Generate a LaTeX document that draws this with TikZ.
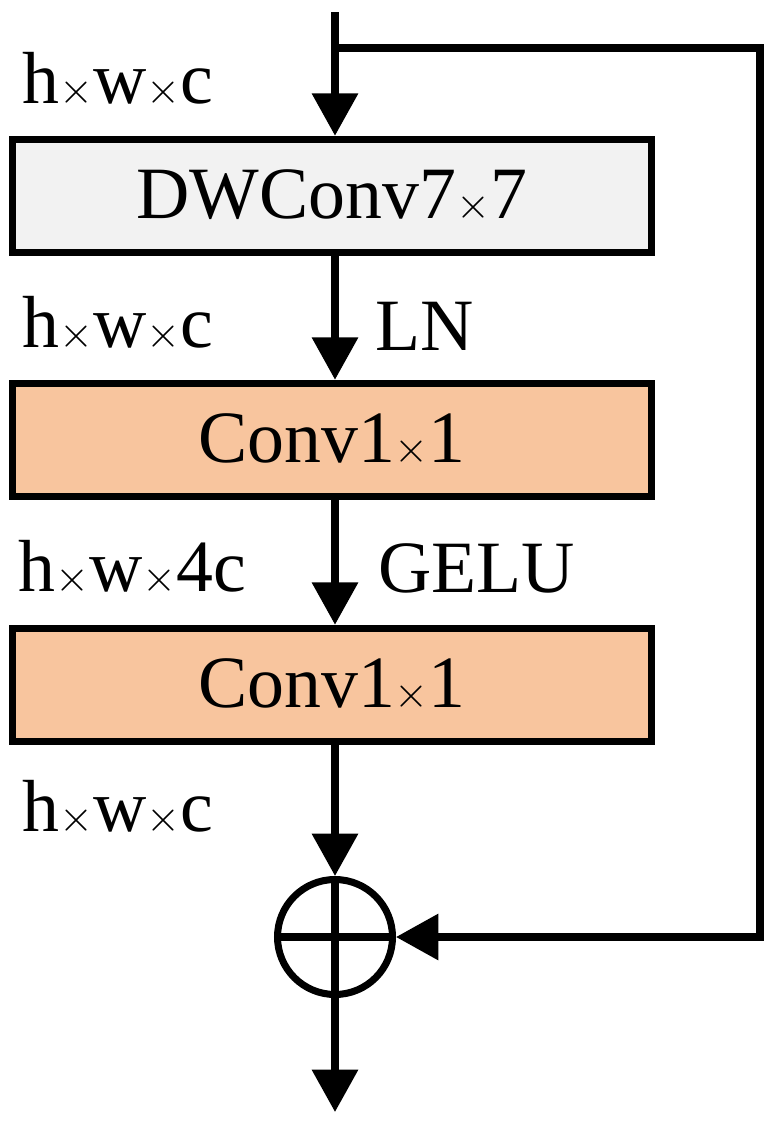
\documentclass[tikz,border=0pt]{standalone}
\usepackage{fontspec}
\setmainfont{Liberation Serif}
\usetikzlibrary{arrows.meta}
\definecolor{boxgray}{HTML}{F2F2F2}
\definecolor{peach}{HTML}{F8C59E}
\tikzset{
  blk/.style={draw, line width=4pt, minimum width=12.8cm, minimum height=2.27cm, inner sep=0pt, font=\fontsize{42}{42}\selectfont},
  lbl/.style={font=\fontsize{42}{42}\selectfont, inner sep=0pt},
  flow/.style={line width=4pt, -{Triangle[length=0.85cm,width=0.9cm]}}
}
\begin{document}
\begin{tikzpicture}[x=0.02cm,y=-0.02cm]
    \useasboundingbox (0,0) rectangle (775,1126);
    % blocks
    \node[blk, fill=boxgray] (dw) at (332,196) {DWConv7$\times$7};
    \node[blk, fill=peach] (pw1) at (332,440) {Conv1$\times$1};
    \node[blk, fill=peach] (pw2) at (332,685) {Conv1$\times$1};
    \node[draw, circle, line width=4pt, minimum size=2.3cm, inner sep=0pt] (add) at (335,937) {};
    \draw[line width=4pt] (add.north) -- (add.south) (add.west) -- (add.east);
    \coordinate (in) at (335,12);
    \coordinate (split) at (335,48);
    \coordinate (out) at (335,1112);
    % main path
    \draw[flow] (in) -- (dw.north -| in);
    \draw[flow] (dw.south -| in) -- (pw1.north -| in);
    \draw[flow] (pw1.south -| in) -- (pw2.north -| in);
    \draw[flow] (pw2.south -| in) -- (add.north);
    \draw[flow] (add.south) -- (out);
    % shortcut
    \draw[flow] (split) -- (760,48) -- (760,937) -- (add.east);
    % labels
    \node[lbl, anchor=west] (s0) at (22,80) {h$\times$w$\times$c};
    \node[lbl, anchor=west] (s1) at (22,324) {h$\times$w$\times$c};
    \node[lbl, anchor=west] (s2) at (18,568) {h$\times$w$\times$4c};
    \node[lbl, anchor=west] (s3) at (22,808) {h$\times$w$\times$c};
    \node[lbl, anchor=west] (ln) at (375,326) {LN};
    \node[lbl, anchor=west] (gelu) at (378,568) {GELU};
\end{tikzpicture}
\end{document}
